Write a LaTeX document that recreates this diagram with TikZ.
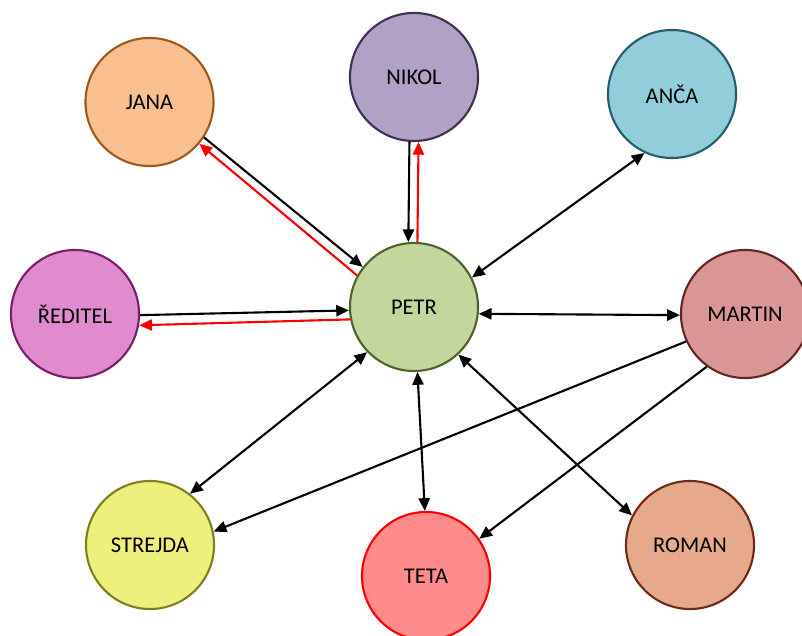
\documentclass[tikz,border=0pt]{standalone}
\usepackage{fontspec}
\setmainfont{Carlito}
\usetikzlibrary{arrows.meta}

\definecolor{janafill}{HTML}{F9BF8F}
\definecolor{janadraw}{HTML}{A0581A}
\definecolor{nikolfill}{HTML}{B2A1C7}
\definecolor{nikoldraw}{HTML}{3F3151}
\definecolor{ancafill}{HTML}{92CDDC}
\definecolor{ancadraw}{HTML}{245E6E}
\definecolor{reditelfill}{HTML}{E08BD0}
\definecolor{reditetdraw}{HTML}{7A1E6C}
\definecolor{petrfill}{HTML}{C3D69B}
\definecolor{petrdraw}{HTML}{4F6228}
\definecolor{martinfill}{HTML}{D99694}
\definecolor{martindraw}{HTML}{632523}
\definecolor{strejdafill}{HTML}{EEF07E}
\definecolor{strejdadraw}{HTML}{7F7F1E}
\definecolor{tetafill}{HTML}{FF8B8B}
\definecolor{tetadraw}{HTML}{FF0000}
\definecolor{romanfill}{HTML}{E6A98A}
\definecolor{romandraw}{HTML}{6E2A16}

\begin{document}
\begin{tikzpicture}[
    x=0.025cm, y=-0.025cm,
    >={Triangle[length=3.2mm, width=2.8mm]},
    person/.style={circle, minimum size=3.2cm, inner sep=0pt, line width=1.5pt,
        font=\fontsize{16}{19}\selectfont},
    link/.style={line width=1.5pt, black},
    back/.style={line width=1.5pt, red}
]
    \useasboundingbox (0,0) rectangle (802,636);

    \node[person, fill=janafill, draw=janadraw] at (149.5,102) (jana) {JANA};
    \node[person, fill=nikolfill, draw=nikoldraw] at (414,77) (nikol) {NIKOL};
    \node[person, fill=ancafill, draw=ancadraw] at (672,94) (anca) {ANČA};
    \node[person, fill=reditelfill, draw=reditetdraw] at (75,314) (reditel) {ŘEDITEL};
    \node[person, fill=petrfill, draw=petrdraw] at (414,307) (petr) {PETR};
    \node[person, fill=martinfill, draw=martindraw] at (745,314) (martin) {MARTIN};
    \node[person, fill=strejdafill, draw=strejdadraw] at (150,545) (strejda) {STREJDA};
    \node[person, fill=tetafill, draw=tetadraw] at (426,576) (teta) {TETA};
    \node[person, fill=romanfill, draw=romandraw] at (690,545) (roman) {ROMAN};

    \draw[link, ->] (jana.-33) -- (petr.142);
    \draw[back, ->] (petr.151) -- (jana.-40);
    \draw[link, ->] (nikol.-94) -- (petr.95);
    \draw[back, ->] (petr.87) -- (nikol.-86.5);
    \draw[link, <->] (petr.27) -- (anca.-115);
    \draw[link, ->] (reditel.-1) -- (petr.183.5);
    \draw[back, ->] (petr.191) -- (reditel.-10);
    \draw[link, <->] (petr.-6) -- (martin.181);
    \draw[link, <->] (petr.224) -- (strejda.52);
    \draw[link, ->] (martin.205) -- (strejda.12);
    \draw[link, <->] (petr.-87) -- (teta.91);
    \draw[link, <->] (petr.-47) -- (roman.153);
    \draw[link, ->] (martin.-126) -- (teta.35);
\end{tikzpicture}
\end{document}
